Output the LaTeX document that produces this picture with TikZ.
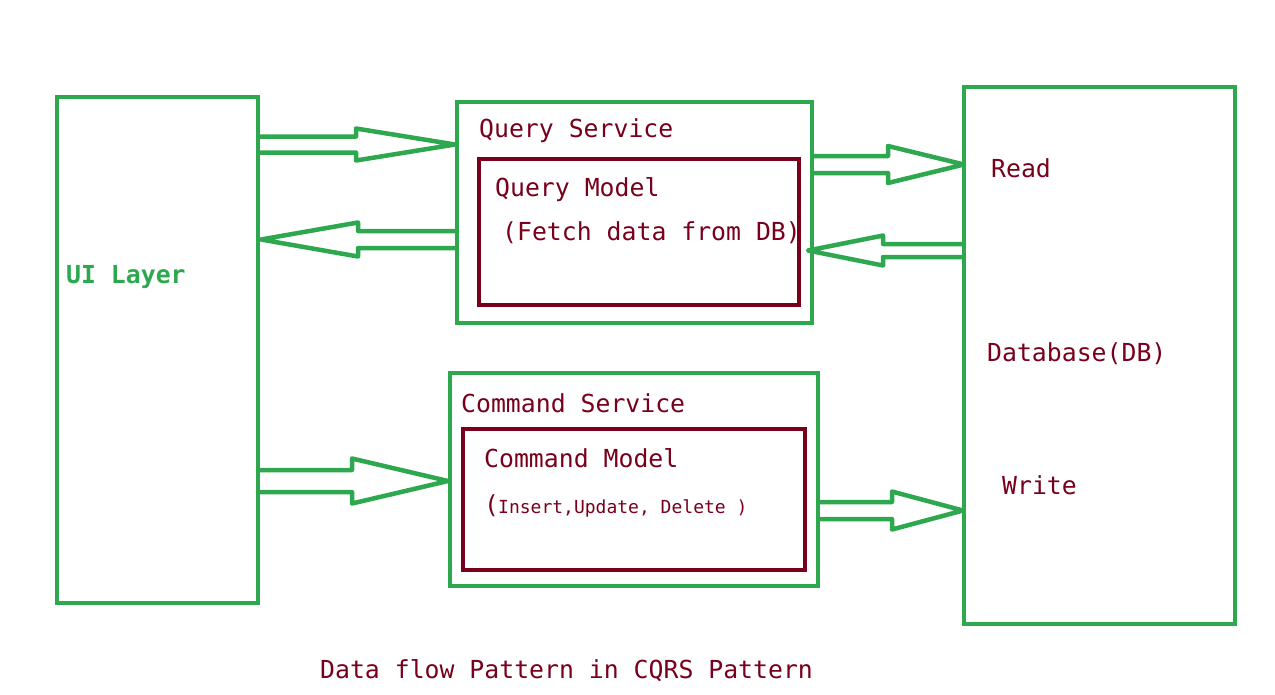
\documentclass[tikz,border=0pt]{standalone}
\usepackage{fontspec}
\newfontfamily\monofnt{DejaVu Sans Mono}
\definecolor{dgreen}{RGB}{46,168,78}
\definecolor{dred}{RGB}{120,0,28}
\tikzset{
  gbox/.style={draw=dgreen, line width=4.5pt, inner sep=0pt, outer sep=0pt, anchor=north west},
  rbox/.style={draw=dred, line width=4.5pt, inner sep=0pt, outer sep=0pt, anchor=north west},
  arrowline/.style={draw=dgreen, line width=4.5pt, line join=round, line cap=round},
  lbl/.style={anchor=base west, inner sep=0pt, text=dred, font=\monofnt\fontsize{24.8}{30}\selectfont},
  smalllbl/.style={anchor=base west, inner sep=0pt, text=dred, font=\monofnt\fontsize{18}{22}\selectfont},
}
\newcommand\blockarr[6]{%
  \draw[arrowline] (#1,#3-#4) -- (#5,#3-#4) -- (#5,#3-#6) -- (#2,#3) -- (#5,#3+#6) -- (#5,#3+#4) -- (#1,#3+#4);}
\begin{document}
\begin{tikzpicture}[x=1pt,y=-1pt]
\useasboundingbox[fill=white] (0,0) rectangle (1275,694);
% boxes
\node[gbox, minimum width=201pt, minimum height=506pt] (ui) at (57,97) {};
\node[gbox, minimum width=355pt, minimum height=221pt] (qs) at (457,102) {};
\node[rbox, minimum width=320pt, minimum height=146pt] (qm) at (479,159) {};
\node[gbox, minimum width=368pt, minimum height=213pt] (cs) at (450,373) {};
\node[rbox, minimum width=342pt, minimum height=141pt] (cm) at (463,429) {};
\node[gbox, minimum width=271pt, minimum height=537pt] (db) at (964,87) {};
% labels
\node[lbl, text=dgreen, font=\monofnt\bfseries\fontsize{24.8}{30}\selectfont] (uit) at (66,283) {UI Layer};
\node[lbl] (qst) at (479,137) {Query Service};
\node[lbl] (qmt) at (495,196) {Query Model};
\node[lbl] (qmd) at (502,240) {(Fetch data from DB)};
\node[lbl] (cst) at (461,412) {Command Service};
\node[lbl] (cmt) at (484,467) {Command Model};
\node[lbl] (cmp) at (484,513) {(};
\node[smalllbl] (cmd) at (498,513) {Insert,Update, Delete )};
\node[lbl] (rd) at (991,177) {Read};
\node[lbl] (dbt) at (987,361) {Database(DB)};
\node[lbl] (wr) at (1002,494) {Write};
\node[lbl] (title) at (320,678) {Data flow Pattern in CQRS Pattern};
% block arrows
\blockarr{259}{455}{144.5}{8}{356}{16}
\blockarr{457}{261}{239.5}{8.5}{358}{17}
\blockarr{813}{964}{164.5}{8.5}{888}{18.5}
\blockarr{964}{808}{250.5}{6.5}{883}{15}
\blockarr{258}{448}{481}{11}{352}{22.5}
\blockarr{819}{963}{510.5}{8.5}{892}{19}
\end{tikzpicture}
\end{document}
